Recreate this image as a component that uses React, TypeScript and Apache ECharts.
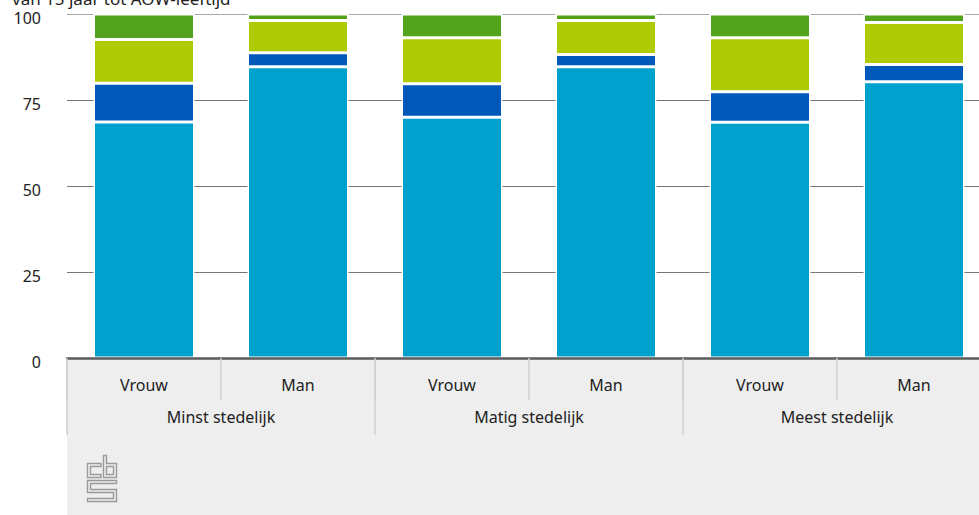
import React, { useEffect, useRef } from "react";
import * as echarts from "echarts";

const subCategories = ["Vrouw", "Man", "Vrouw", "Man", "Vrouw", "Man"];
const groupCategories = ["Minst stedelijk", "Matig stedelijk", "Meest stedelijk"];
const yTicks = [0, 25, 50, 75, 100];

const seriesNames = ["Categorie 1", "Categorie 2", "Categorie 3", "Categorie 4"];
const serie1 = [68.6, 84.7, 70.0, 84.7, 68.5, 80.3];
const serie2 = [11.3, 4.0, 9.7, 3.5, 8.9, 5.0];
const serie3 = [12.7, 9.4, 13.4, 9.9, 15.7, 12.2];
const serie4 = [7.4, 1.9, 6.9, 1.9, 6.9, 2.5];
const seriesColors = ["#00a1cd", "#0058b8", "#afcb05", "#53a31d"];
const titleLine = "van 15 jaar tot AOW-leeftijd";

const FONT = "'Noto Sans', sans-serif";

export default function App() {
  const ref = useRef<HTMLDivElement>(null);
  useEffect(() => {
    if (!ref.current) return;
    const chart = echarts.init(ref.current, undefined, { renderer: "svg" });
    const values = [serie1, serie2, serie3, serie4];
    const logoStroke = { stroke: "#9a9a9a", lineWidth: 1.4, fill: null };
    chart.setOption({
      animation: false,
      textStyle: { fontFamily: FONT },
      grid: {
        left: 67,
        top: 14,
        bottom: 157,
        width: 924,
        containLabel: false,
        outerBoundsMode: "none",
      },
      xAxis: [
        {
          type: "category",
          data: subCategories,
          position: "bottom",
          axisLine: { show: true, lineStyle: { color: "#5a5a5a", width: 2.5 } },
          axisTick: { show: true, interval: 0, length: 42, lineStyle: { color: "#cfcfcf", width: 1.5 } },
          axisLabel: { interval: 0, margin: 19, fontSize: 16, color: "#222", fontFamily: FONT },
          splitLine: { show: false },
          z: 3,
        },
        {
          type: "category",
          data: groupCategories,
          position: "bottom",
          axisLine: { show: false },
          axisTick: { show: true, interval: 0, length: 77, lineStyle: { color: "#cfcfcf", width: 1.5 } },
          axisLabel: { interval: 0, margin: 51, fontSize: 16, color: "#222", fontFamily: FONT },
          splitLine: { show: false },
        },
      ],
      yAxis: {
        type: "value",
        min: 0,
        max: 100,
        interval: 25,
        axisLine: { show: false },
        axisTick: { show: false },
        axisLabel: {
          margin: 26,
          fontSize: 16,
          color: "#222",
          fontFamily: FONT,
          verticalAlign: "top",
          lineHeight: 8,
          formatter: (v: number) => (yTicks.includes(v) ? String(v) : ""),
        },
        splitLine: {
          show: true,
          lineStyle: { color: ["#777", "#777", "#777", "#777", "#aaa"], width: 1.2 },
        },
      },
      series: values.map((d, i) => ({
        name: seriesNames[i],
        type: "bar",
        stack: "total",
        xAxisIndex: 0,
        barWidth: 101,
        data: d,
        itemStyle: { color: seriesColors[i], borderColor: "#fff", borderWidth: 1.5 },
        emphasis: { disabled: true },
      })),
      graphic: [
        {
          type: "rect",
          z: -10,
          silent: true,
          shape: { x: 67, y: 359, width: 912, height: 156 },
          style: { fill: "#eeeeee" },
        },
        {
          type: "text",
          left: 12,
          top: -10,
          style: { text: titleLine, fontSize: 17, fontFamily: FONT, fill: "#222" },
        },
        {
          type: "group",
          children: [
            {
              type: "polygon",
              shape: { points: [[101, 463.5], [87.5, 463.5], [87.5, 477.5], [101, 477.5], [101, 474.5], [90.5, 474.5], [90.5, 466.5], [101, 466.5]] },
              style: logoStroke,
            },
            {
              type: "polygon",
              shape: { points: [[103.5, 455.5], [106.5, 455.5], [106.5, 463.5], [116.5, 463.5], [116.5, 477.5], [103.5, 477.5]] },
              style: logoStroke,
            },
            { type: "rect", shape: { x: 106.5, y: 466.5, width: 7, height: 8 }, style: logoStroke },
            {
              type: "polygon",
              shape: {
                points: [
                  [116.5, 480.5], [87.5, 480.5], [87.5, 492.5], [113.5, 492.5], [113.5, 498.5],
                  [87.5, 498.5], [87.5, 501.5], [116.5, 501.5], [116.5, 489.5], [90.5, 489.5],
                  [90.5, 483.5], [116.5, 483.5],
                ],
              },
              style: logoStroke,
            },
          ],
        },
      ],
    });
    return () => chart.dispose();
  }, []);
  return (
    <div
      ref={ref}
      style={{ position: "absolute", left: 0, top: 0, width: 979, height: 515, background: "#fff" }}
    />
  );
}
